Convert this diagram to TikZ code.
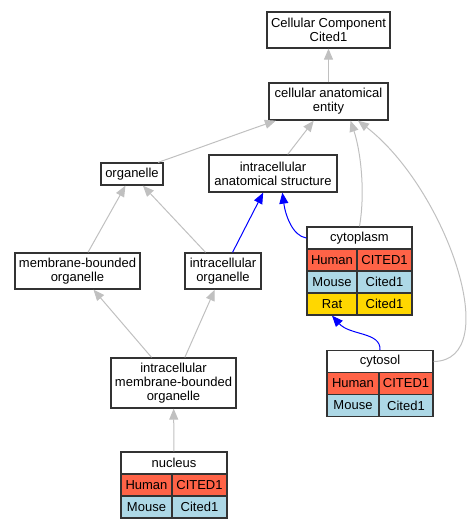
\documentclass[tikz,border=0pt]{standalone}
\usepackage{fontspec}
\setmainfont{Liberation Sans}
\usetikzlibrary{arrows.meta}
\definecolor{tomatored}{HTML}{FF6347}
\definecolor{lightblue}{HTML}{ADD8E6}
\definecolor{goldyellow}{HTML}{FFD700}
\definecolor{silvergray}{HTML}{C0C0C0}
\tikzset{
	term/.style={draw=black!80, line width=1.3pt, fill=white, inner sep=0pt, align=center, font=\fontsize{13}{14}\selectfont},
	cell/.style={term, minimum height=22pt},
	human/.style={cell, fill=tomatored},
	mouse/.style={cell, fill=lightblue},
	rat/.style={cell, fill=goldyellow},
	isa/.style={draw=silvergray, line width=1pt, -{Triangle[length=11pt,width=9pt]}},
	partof/.style={draw=blue, line width=1pt, -{Triangle[length=11pt,width=9pt]}},
}

\begin{document}
\begin{tikzpicture}[x=1pt, y=-1pt]
		%%%%% START %%%%%
		\useasboundingbox (0, 0) rectangle (472, 528);
		
		\node[term, minimum width=123pt, minimum height=36pt] (cc) at (328.5, 30) {Cellular Component\\Cited1};
		\node[term, minimum width=119pt, minimum height=37pt] (cae) at (328.5, 101.5) {cellular anatomical\\entity};
		
		\node[term, minimum width=62pt, minimum height=22pt] (org) at (132, 174) {organelle};
		\node[term, minimum width=128pt, minimum height=37pt] (ias) at (273, 173.5) {intracellular\\anatomical structure};
		
		\node[term, minimum width=125pt, minimum height=36pt] (mbo) at (77.5, 271) {membrane-bounded\\organelle};
		\node[term, minimum width=76pt, minimum height=36pt] (io) at (223, 271) {intracellular\\organelle};
		\node[term, minimum width=125pt, minimum height=50pt] (imbo) at (173.5, 383) {intracellular\\membrane-bounded\\organelle};
		
		% cytoplasm
		\node[cell, minimum width=105pt] (cytoT) at (359.5, 238) {cytoplasm};
		\node[human, minimum width=50pt] (cytoH) at (332, 260) {Human};
		\node[human, minimum width=55pt] (cytoHg) at (384.5, 260) {CITED1};
		\node[mouse, minimum width=50pt] (cytoM) at (332, 282) {Mouse};
		\node[mouse, minimum width=55pt] (cytoMg) at (384.5, 282) {Cited1};
		\node[rat, minimum width=50pt] (cytoR) at (332, 304) {Rat};
		\node[rat, minimum width=55pt] (cytoRg) at (384.5, 304) {Cited1};
		
		% cytosol
		\node[cell, minimum width=106pt] (cytT) at (380, 361.5) {cytosol};
		\node[human, minimum width=52pt] (cytH) at (353, 383.5) {Human};
		\node[human, minimum width=54pt] (cytHg) at (406, 383.5) {CITED1};
		\node[mouse, minimum width=52pt] (cytM) at (353, 405.5) {Mouse};
		\node[mouse, minimum width=54pt] (cytMg) at (406, 405.5) {Cited1};
		
		% nucleus
		\node[cell, minimum width=106pt] (nucT) at (174, 463) {nucleus};
		\node[human, minimum width=51pt] (nucH) at (146.5, 485) {Human};
		\node[human, minimum width=55pt] (nucHg) at (199.5, 485) {CITED1};
		\node[mouse, minimum width=51pt] (nucM) at (146.5, 507) {Mouse};
		\node[mouse, minimum width=55pt] (nucMg) at (199.5, 507) {Cited1};
		
		\draw[isa] (cae) -- (cc);
		\draw[isa] (org.24) .. controls +(40,-14) and +(-35,12) .. (cae.200);
		\draw[isa] (ias) -- (cae);
		\draw[isa] (cytoT.north) .. controls +(6,-35) and +(10,30) .. (cae.-41);
		\draw[isa] (cytT.east) .. controls +(72,-1) and +(88,68) .. (cae.-33);
		
		\draw[isa] (mbo) -- (org);
		\draw[isa] (io) -- (org);
		\draw[partof] (io) -- (ias);
		\draw[partof] (cytoT.west) .. controls +(-14,-2) and +(3,22) .. (ias.-64);
		
		\draw[isa] (imbo) -- (mbo);
		\draw[isa] (imbo) -- (io);
		\draw[isa] (nucT) -- (imbo);
		\draw[partof] (cytT.north) .. controls +(1,-18) and +(18,20) .. (cytoR.south);
		
		%%%%% END %%%%%
	\end{tikzpicture}
\end{document}
